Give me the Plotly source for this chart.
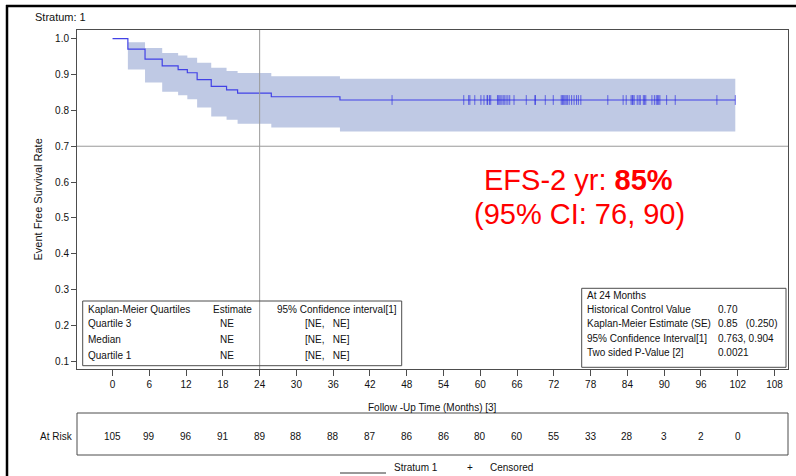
import plotly.graph_objects as go

# Kaplan-Meier estimate (step function) for Stratum 1
km_months = [0, 2.5, 5.3, 8.1, 10.7, 12.2, 13.8, 16.1, 18.6, 20.4, 25.9, 37.1, 101.6]
km_surv = [1.0, 0.971, 0.943, 0.924, 0.914, 0.905, 0.886, 0.867, 0.857, 0.848, 0.838, 0.829, 0.829]

# Pointwise 95% confidence band
band_months = [2.5, 5.3, 8.1, 10.7, 12.2, 13.8, 16.1, 18.6, 20.4, 25.9, 37.1, 101.6]
band_lower = [0.914, 0.878, 0.852, 0.842, 0.831, 0.808, 0.783, 0.774, 0.763, 0.752, 0.741, 0.741]
band_upper = [0.990, 0.974, 0.960, 0.953, 0.947, 0.933, 0.919, 0.910, 0.904, 0.895, 0.888, 0.888]

# Censoring times (months)
censor_months = [45.6, 57.3, 58.1, 58.3, 59.1, 60.1, 60.6, 61.1, 61.2, 61.5, 61.7,
                 62.8, 63.0, 63.2, 63.4, 63.7, 63.9, 64.2, 64.5, 64.8, 65.5, 67.5,
                 68.9, 69.0, 70.6, 71.9, 73.2, 73.4, 73.6, 73.8, 74.0, 74.2, 74.5,
                 74.9, 75.3, 75.7, 76.0, 76.4, 80.8, 83.3, 83.8, 84.6, 84.8, 84.9,
                 85.1, 85.6, 85.9, 86.1, 86.6, 86.8, 87.0, 88.0, 88.4, 88.7, 88.9,
                 89.1, 89.3, 90.4, 91.8, 98.6, 101.6]
censor_surv = 0.829

# Number at risk
risk_months = [0, 6, 12, 18, 24, 30, 36, 42, 48, 54, 60, 66, 72, 78, 84, 90, 96, 102]
risk_counts = [105, 99, 96, 91, 89, 88, 88, 87, 86, 86, 80, 60, 55, 33, 28, 3, 2, 0]

x_ticks = list(range(0, 109, 6))
y_ticks = [0.1, 0.2, 0.3, 0.4, 0.5, 0.6, 0.7, 0.8, 0.9, 1.0]

quartile_header = ["Kaplan-Meier Quartiles", "Estimate", "95% Confidence interval[1]"]
quartile_rows = [["Quartile 3", "NE", "[NE,\u00a0\u00a0\u00a0NE]"],
                 ["Median", "NE", "[NE,\u00a0\u00a0\u00a0NE]"],
                 ["Quartile 1", "NE", "[NE,\u00a0\u00a0\u00a0NE]"]]

landmark_rows = [["At 24 Months", ""],
                 ["Historical Control Value", "0.70"],
                 ["Kaplan-Meier Estimate (SE)", "0.85\u00a0\u00a0\u00a0(0.250)"],
                 ["95% Confidence Interval[1]", "0.763, 0.904"],
                 ["Two sided P-Value [2]", "0.0021"]]

reference_month = 24
reference_rate = 0.7

W, H = 796, 476
FONT = "Liberation Sans, Arial, sans-serif"
TXT = "#111111"
FRAME = "#4d4d4d"
LINE_BLUE = "rgb(66,66,230)"
BAND = "rgb(191,201,228)"


def px(x):
    return x / W


def py(y):
    return 1 - y / H


fig = go.Figure()

fig.add_trace(go.Scatter(x=band_months, y=band_lower, mode="lines",
                         line=dict(shape="hv", width=0, color=BAND),
                         hoverinfo="skip", showlegend=False))
fig.add_trace(go.Scatter(x=band_months, y=band_upper, mode="lines",
                         line=dict(shape="hv", width=0, color=BAND),
                         fill="tonexty", fillcolor=BAND,
                         hoverinfo="skip", showlegend=False))
fig.add_trace(go.Scatter(x=km_months, y=km_surv, mode="lines",
                         line=dict(shape="hv", width=1.2, color=LINE_BLUE),
                         showlegend=False))
fig.add_trace(go.Scatter(x=censor_months, y=[censor_surv] * len(censor_months),
                         mode="markers",
                         marker=dict(symbol="line-ns", size=7,
                                     line=dict(width=1, color="rgba(40,40,225,0.65)")),
                         showlegend=False))

shapes = []
# reference lines
shapes.append(dict(type="line", xref="x", yref="paper", x0=reference_month, x1=reference_month,
                   y0=py(369), y1=py(30), line=dict(color="#9a9a9a", width=1), layer="above"))
shapes.append(dict(type="line", xref="paper", yref="y", x0=px(77), x1=px(788),
                   y0=reference_rate, y1=reference_rate,
                   line=dict(color="#9a9a9a", width=1), layer="above"))

# outer border
shapes.append(dict(type="line", xref="paper", yref="paper", x0=px(6), x1=1,
                   y0=py(6), y1=py(6), line=dict(color="black", width=2.5)))
shapes.append(dict(type="line", xref="paper", yref="paper", x0=px(7), x1=px(7),
                   y0=py(5), y1=0, line=dict(color="black", width=2.5)))

# table boxes
for (x0, y0, x1, y1) in [(82.7, 301, 401.7, 365.7), (581.7, 288.3, 786, 367.3), (77, 413, 788, 455)]:
    shapes.append(dict(type="rect", xref="paper", yref="paper",
                       x0=px(x0), x1=px(x1), y0=py(y1), y1=py(y0),
                       line=dict(color=FRAME, width=1), layer="above"))

# legend line
shapes.append(dict(type="line", xref="paper", yref="paper", x0=px(340), x1=px(386),
                   y0=py(473), y1=py(473), line=dict(color="#333333", width=1)))

ann = []


def text(x, y, s, anchor="left", size=10, color=TXT, family=FONT, angle=0):
    ann.append(dict(x=px(x), y=py(y), xref="paper", yref="paper", text=s,
                    showarrow=False, xanchor=anchor, yanchor="middle",
                    textangle=angle, font=dict(size=size, color=color, family=family)))


text(33, 17, "Stratum: 1", size=11)
text(37, 199.5, "Event Free Survival Rate", anchor="center", size=11, angle=-90)
text(432.5, 407, "Follow -Up Time (Months) [3]", anchor="center", size=10)

# quartile table
text(86, 309.3, quartile_header[0])
text(232.5, 309.3, quartile_header[1], anchor="center")
text(337, 309.3, quartile_header[2], anchor="center")
for i, row in enumerate(quartile_rows):
    yy = [323.3, 339, 355.7][i]
    text(86, yy, row[0])
    text(226.5, yy, row[1], anchor="center")
    text(327.5, yy, row[2], anchor="center")

# landmark table
for i, row in enumerate(landmark_rows):
    yy = [295, 309, 323.3, 338.3, 352.7][i]
    text(585, yy, row[0])
    if row[1]:
        text(716, yy, row[1])

# at-risk row
text(75, 436, "At Risk", anchor="right", size=10)
for m, c in zip(risk_months, risk_counts):
    ann.append(dict(x=m, y=py(436), xref="x", yref="paper", text=str(c), showarrow=False,
                    xanchor="center", yanchor="middle",
                    font=dict(size=10, color=TXT, family=FONT)))

# legend text
text(392, 467, "Stratum 1", size=10)
text(470, 467, "+", anchor="center", size=10)
text(488, 467, "Censored", size=10)

# headline estimate
text(578.5, 180, "EFS-2 yr: <b>85%</b>", anchor="center", size=29, color="#ff0000")
text(579, 214, "(95% CI: 76, 90)", anchor="center", size=29, color="#ff0000")

fig.update_layout(
    width=W, height=H, autosize=False,
    margin=dict(l=0, r=0, t=0, b=0),
    paper_bgcolor="white", plot_bgcolor="white",
    shapes=shapes, annotations=ann,
    showlegend=False,
    xaxis=dict(domain=[px(77), px(788)], range=[-5.8, 110.2],
               tickvals=x_ticks, ticks="outside", ticklen=6, tickcolor=FRAME,
               showline=True, linecolor=FRAME, linewidth=1, mirror=True,
               showgrid=False, zeroline=False,
               tickfont=dict(size=10, color=TXT, family=FONT)),
    yaxis=dict(domain=[py(369), py(30)], range=[0.0785, 1.0243],
               tickvals=y_ticks, tickformat=".1f", ticks="outside", ticklen=5, tickcolor=FRAME,
               showline=True, linecolor=FRAME, linewidth=1, mirror=True,
               showgrid=False, zeroline=False,
               tickfont=dict(size=10, color=TXT, family=FONT)),
)

fig.write_html("out.html")
